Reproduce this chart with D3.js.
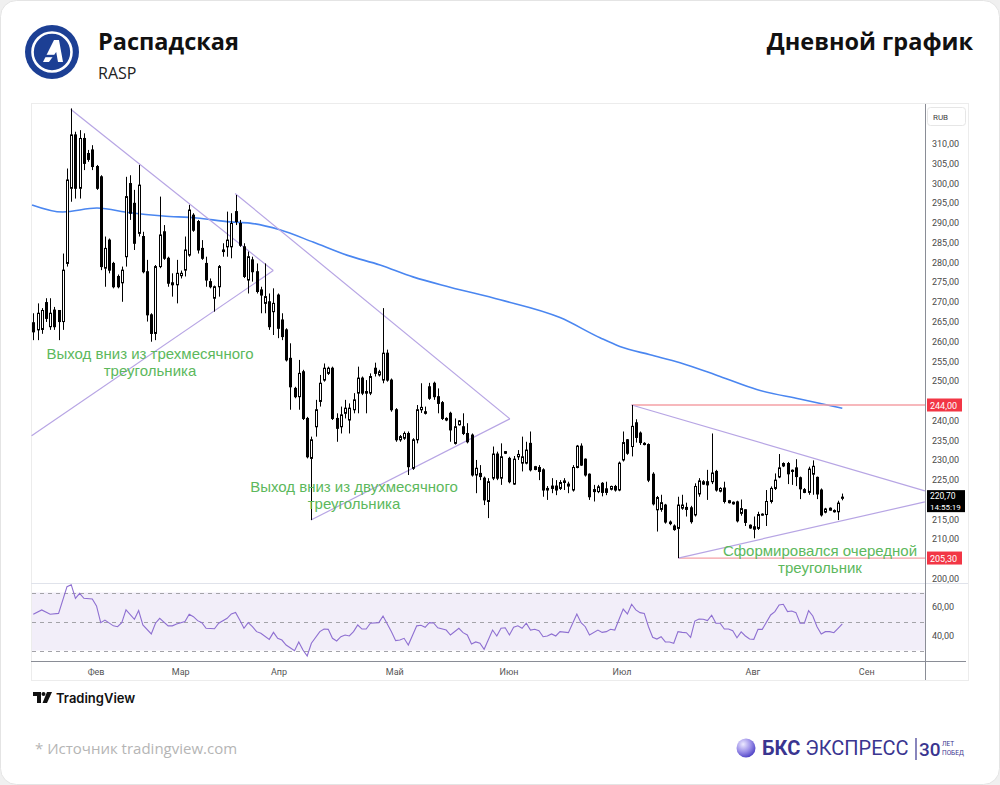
<!DOCTYPE html>
<html><head><meta charset="utf-8">
<script src="https://cdn.jsdelivr.net/npm/d3@7"></script>
<style>
html,body{margin:0;padding:0;background:#f0f0f0;}
svg{display:block;}
</style></head><body>
<svg id="c" width="1000" height="785"></svg>
<script>
// ---------- DATA ----------
const opens = [264.8,263.0,263.1,269.9,263.8,268.0,267.9,265.1,279.8,298.8,312.3,298.8,311.4,307.6,308.5,304.3,301.7,278.6,285.7,279.8,276.5,274.9,281.5,300.0,295.0,287.4,286.6,277.7,266.8,262.1,279.0,287.8,281.1,274.9,274.4,276.7,278.1,281.9,292.0,290.4,283.6,279.8,275.2,271.0,273.9,283.2,284.0,284.0,292.9,289.9,284.0,275.6,280.7,277.7,273.1,269.7,270.1,267.6,271.8,265.5,263.0,255.8,248.2,246.1,252.4,240.6,230.5,238.5,244.9,250.3,252.0,253.3,240.6,238.5,241.9,240.2,242.8,247.0,250.8,247.4,247.0,253.3,251.6,250.3,257.1,250.3,242.8,235.2,235.6,236.8,228.0,235.2,242.8,242.3,248.6,249.5,246.1,244.6,240.6,241.9,234.3,239.0,238.5,236.8,236.4,226.3,226.7,225.5,219.6,225.5,231.6,225.5,232.2,230.5,224.0,230.9,229.3,229.3,234.3,227.7,228.2,227.6,222.5,223.5,223.5,222.9,224.8,223.5,222.5,228.2,233.6,230.3,226.5,222.6,222.1,224.2,222.8,222.7,223.4,222.5,230.1,235.2,233.5,239.5,236.9,234.3,234.0,226.5,217.5,217.6,218.7,214.4,213.4,212.8,217.9,218.1,218.0,216.2,221.5,224.0,224.6,224.6,227.2,222.2,223.0,219.3,219.4,219.5,216.6,217.5,213.6,213.2,212.8,216.2,216.3,219.6,222.9,225.8,228.6,229.2,227.5,228.1,225.6,222.6,221.9,226.5,225.7,222.5,216.9,217.4,217.3,217.0,220.4];
const highs = [267.2,269.7,268.5,271.0,271.0,268.8,268.0,282.3,303.8,319.0,313.1,313.5,312.7,308.5,309.7,304.7,302.1,286.6,286.1,280.2,277.0,279.0,301.7,302.1,298.4,304.7,287.8,280.7,267.2,279.4,296.7,289.5,281.5,277.3,280.7,278.0,286.6,294.6,292.5,290.8,285.7,281.5,276.0,274.2,279.4,284.9,292.9,292.5,297.1,290.8,284.9,282.8,281.5,279.8,273.9,279.8,272.2,273.5,272.2,267.2,263.4,259.6,248.6,255.4,252.9,241.0,236.0,245.3,251.6,254.5,253.7,253.7,241.9,243.6,245.3,244.4,247.0,253.7,251.2,250.3,252.0,254.7,252.9,268.5,258.0,250.7,243.2,236.4,237.3,237.3,235.6,244.0,249.5,243.6,249.6,249.9,248.2,245.0,240.9,242.3,240.6,240.2,241.9,239.4,236.8,230.1,228.8,225.9,225.5,233.5,232.2,234.3,232.3,230.9,231.1,232.6,236.0,234.7,237.3,228.6,228.8,228.0,223.5,225.5,225.0,225.0,225.5,224.6,228.8,233.9,234.3,230.5,226.7,223.8,223.8,224.5,224.6,223.6,223.8,229.7,237.3,235.4,244.0,240.4,237.3,234.6,234.3,227.0,221.0,221.3,219.0,214.8,213.8,220.8,221.3,219.3,218.5,224.2,225.5,225.0,227.6,236.8,227.6,223.2,224.6,220.0,219.6,219.8,220.1,217.6,213.8,215.8,217.0,216.6,222.5,223.4,226.7,231.6,229.5,229.6,227.7,230.3,225.9,223.0,228.4,230.0,225.9,222.9,218.0,218.1,217.6,219.8,221.6];
const lows = [260.4,260.4,262.0,265.0,263.0,263.0,260.4,263.0,279.0,295.4,296.2,296.2,303.4,305.5,303.4,298.4,278.1,273.9,277.3,273.5,273.5,270.1,279.0,290.8,283.2,286.6,277.3,265.1,260.0,260.4,278.6,280.7,273.9,271.4,269.7,276.0,276.5,281.5,287.8,282.3,280.7,273.9,273.5,267.6,271.4,281.5,281.5,281.1,289.5,284.0,276.1,272.2,275.2,272.2,267.2,267.2,263.0,261.7,260.9,260.4,255.0,242.8,245.7,242.8,240.2,230.5,214.9,236.0,243.6,249.9,251.6,240.2,234.7,236.8,240.6,236.8,241.9,241.9,246.5,241.9,246.5,251.2,251.2,249.5,249.9,242.3,234.7,234.7,235.2,226.3,227.6,234.3,242.0,241.6,245.3,245.3,241.9,240.2,239.9,234.7,234.0,238.8,236.4,234.3,225.9,221.7,225.0,218.7,215.4,225.0,225.0,223.8,231.6,224.2,223.8,230.1,227.2,229.0,227.2,227.5,225.0,220.8,220.0,221.7,221.2,222.5,222.5,221.7,222.1,228.0,228.6,225.9,220.0,219.6,221.7,220.9,221.2,222.4,222.1,222.2,229.7,231.4,231.0,234.5,233.9,233.8,224.5,218.6,212.0,217.0,214.0,213.6,212.2,205.3,217.5,215.8,214.0,215.8,220.8,223.8,220.0,224.0,222.1,221.9,219.1,219.1,218.8,214.3,216.0,213.4,212.7,210.3,212.4,216.0,213.4,219.1,222.5,225.5,228.3,224.0,223.8,223.5,220.2,221.7,221.3,221.3,220.2,215.8,216.6,217.3,216.8,214.9,219.9];
const closes = [262.5,267.2,267.9,265.9,267.2,263.8,265.1,278.1,300.9,312.3,298.8,311.4,305.1,306.1,304.3,298.8,279.0,283.6,278.1,273.9,273.9,278.1,296.7,292.5,284.9,299.6,277.7,266.8,262.1,279.0,287.0,281.1,274.8,274.4,277.3,277.3,283.2,293.3,288.2,283.2,281.1,275.6,273.9,273.9,279.0,282.8,285.7,289.9,290.4,284.4,276.5,281.5,277.7,272.7,271.8,271.4,263.8,269.7,263.4,261.3,255.4,248.6,246.1,252.0,240.6,230.9,235.2,242.8,249.5,253.3,253.3,240.6,238.1,241.5,243.2,243.2,245.3,250.8,247.0,247.0,251.2,252.0,252.4,257.1,250.3,242.8,235.2,236.0,236.8,228.4,235.2,242.8,243.4,241.9,245.7,246.1,244.4,240.6,240.2,237.7,238.5,240.0,236.8,234.7,226.3,228.0,225.9,220.0,224.6,231.6,225.5,230.9,231.8,224.6,230.3,231.5,230.9,232.6,227.6,228.4,227.2,222.5,222.9,222.9,222.5,224.4,224.4,224.0,228.2,233.6,228.8,226.3,220.8,222.1,223.3,221.9,221.9,223.4,222.5,229.3,234.5,231.8,238.6,235.8,234.5,234.0,225.0,219.0,220.6,219.3,214.4,214.0,212.5,218.7,218.7,217.6,214.5,223.4,224.8,224.6,223.8,226.8,222.5,222.9,219.6,219.8,219.0,214.7,217.8,214.3,212.9,212.6,216.3,216.4,219.6,222.9,225.0,228.1,229.2,226.6,227.2,225.9,222.8,221.9,227.8,228.5,221.5,216.2,217.7,217.9,217.0,219.2,220.7];

// moving average, read as [bar index, price]
const maPoints = [[-0.3,294.6],[7,292.8],[15.1,293.8],[23,292.6],[30.8,291.8],[38.8,291.3],[46.7,290.3],[51.4,290.0],[58.5,288.3],[66.4,285.2],[74.4,281.9],[82.3,279.4],[90.1,276.4],[98.9,273.8],[110.8,270.6],[125,266.1],[134.5,261.0],[139.2,258.8],[146.4,256.7],[153.5,254.7],[163,251.2],[171.7,247.9],[181.9,245.5],[192,243.2]];

// RSI, read as [bar index, value]
const rsiPoints = [[0,55],[2,58],[4,55],[6,55.6],[8,74],[9,75.4],[10,66],[11,69.4],[12,66],[14,65.5],[15,60.7],[16,49.2],[17,51],[19,47],[20,46.4],[21,49.2],[22,58],[24,51.5],[25,57.5],[26,47.6],[28,41.4],[29,48.8],[30,52.2],[32,47],[33,47],[34,48.3],[36,50],[37,55],[38,53.3],[39,50.6],[40,49.2],[41,45.3],[43,45],[44,48.8],[46,52.2],[47,55.2],[48,56.3],[49,51],[50,45.3],[51,49.2],[52,46.4],[53,43],[54,41.9],[56,37.7],[57,42.5],[58,38.4],[59,37.2],[60,33.8],[62,29.9],[63,35.9],[64,30.3],[65,26.2],[66,35],[68,43],[69,44.8],[70,44.6],[71,38.4],[72,36.6],[73,39.5],[74,40.7],[75,40],[76,43],[77,47.6],[78,44.8],[79,44.8],[80,48.8],[82,49.2],[83,53.8],[85,43],[86,36.8],[87,37.2],[88,38.4],[89,33.8],[91,47],[92,47.4],[93,46],[94,49.2],[95,49],[96,45.6],[98,44.1],[99,40.7],[101,45.3],[102,42.3],[103,40.7],[104,34.5],[105,35.9],[106,35],[107,30.8],[109,44.1],[110,40],[111,45.3],[112,45.7],[113,40.7],[114,46],[115,47],[116,45.3],[117,48.8],[118,44.1],[119,44.6],[120,43.6],[121,39.5],[122,40],[123,41.4],[124,40],[125,43],[127,42.3],[129,55.2],[130,49.2],[131,46.4],[132,40.7],[134,44.1],[135,42.5],[136,43],[137,44.6],[138,44.1],[140,58.6],[141,55.2],[142,61.9],[143,58],[144,56.1],[145,55.6],[146,46.4],[147,39.1],[148,37.9],[149,39.5],[150,35.9],[151,35.9],[152,35],[153,43],[154,42.5],[155,42.3],[156,39.1],[157,50.3],[158,51.7],[159,51.5],[160,50.6],[161,54.3],[162,48.8],[163,48.8],[164,44.8],[165,44.8],[166,43.6],[167,38.8],[168,42.8],[169,40],[170,37.9],[171,37.7],[172,44.6],[173,44.6],[175,54.5],[176,56.8],[177,61.4],[178,61.9],[179,56.8],[180,57.2],[181,56.1],[182,48.8],[183,48.8],[184,57.5],[185,53.8],[186,46.4],[187,41.4],[188,43],[189,43],[190,42.3],[191,45.3],[192,48.3]];

const monthLabels = ["Фев","Мар","Апр","Май","Июн","Июл","Авг","Сен"];
const monthIndex = [14.9,35.0,58.3,85.8,112.9,139.7,170.8,197.8];
const priceTicks = d3.range(200, 315, 5);
const rsiTicks = [60, 40];
const rsiLevels = [70, 50, 30];

// drawn trend lines: pairs of [bar index, price]
const triangleLines = [
  [[8.87,318.8],[56.95,278.0]],
  [[-0.4,236.2],[56.95,278.0]],
  [[47.9,297.5],[113.1,240.5]],
  [[65.9,214.9],[113.1,240.5]],
  [[142,244.0],[211.6,222.3]],
  [[153.06,205.3],[211.6,219.5]]
];
const levelPrices = [244.00, 205.30];
const levelStart = [142, 153.06];
const lastPrice = 220.70;
const lastTime = "14:55:19";
const notes = [
  {lines:["Выход вниз из трехмесячного","треугольника"], x:150, y:359},
  {lines:["Выход вниз из двухмесячного","треугольника"], x:354, y:492},
  {lines:["Сформировался очередной","треугольник"], x:820, y:556}
];

// ---------- LAYOUT ----------
const svg = d3.select("#c");
const L = 31, R = 925, AX = 968, PT = 104, PB = 583, RB = 661;
const fmt = v => d3.format(".2f")(v).replace(".", ",");

svg.append("rect").attr("x",0.5).attr("y",0.5).attr("width",999).attr("height",784)
  .attr("rx",16).attr("fill","#fff").attr("stroke","#e4e4e4");

const x = d3.scaleLinear().domain([0,192]).range([33.3, 842.3]);
const y = d3.scaleLinear().domain([200,310]).range([579,144]);
const yr = d3.scaleLinear().domain([30,70]).range([650.5,592.5]);

// header
const hdr = svg.append("g").attr("font-family","'Open Sans','Noto Sans',sans-serif");
const logo = svg.append("g").attr("transform","translate(52,52)");
logo.append("circle").attr("r",27).attr("fill","#1c3f94");
logo.append("circle").attr("r",19.5).attr("fill","none").attr("stroke","#fff").attr("stroke-width",2.6);
logo.append("path").attr("d","M-9,10 L2,-12 L7,-12 L11,10 L6,10 L4.2,0 L-3,10 Z").attr("fill","#fff");
logo.append("path").attr("d","M-13,4 L2,4").attr("stroke","#1c3f94").attr("stroke-width",2.4);
hdr.append("text").attr("x",98).attr("y",50).attr("font-size",23.5).attr("font-weight",700).attr("fill","#111").text("Распадская");
hdr.append("text").attr("x",98).attr("y",79).attr("font-size",16).attr("fill","#222").text("RASP");
hdr.append("text").attr("x",973).attr("y",50).attr("text-anchor","end").attr("font-size",23.5).attr("font-weight",700).attr("fill","#111").text("Дневной график");

// chart frame
const tv = svg.append("g").attr("font-family","'Roboto','Open Sans',sans-serif");
tv.append("rect").attr("x",L+0.5).attr("y",103.5).attr("width",AX-L).attr("height",577).attr("fill","none").attr("stroke","#ececec");
tv.append("line").attr("x1",L).attr("x2",AX).attr("y1",PB+0.5).attr("y2",PB+0.5).attr("stroke","#e0e3eb");
tv.append("line").attr("x1",L).attr("x2",AX-2).attr("y1",RB+0.5).attr("y2",RB+0.5).attr("stroke","#8a8d96");
tv.append("line").attr("x1",R+0.5).attr("x2",R+0.5).attr("y1",PT).attr("y2",680).attr("stroke","#8a8d96");

svg.append("defs").append("clipPath").attr("id","clipP").append("rect").attr("x",L).attr("y",PT).attr("width",R-L).attr("height",PB-PT);

// RSI pane
const rsiG = svg.append("g");
rsiG.append("rect").attr("x",L+1).attr("width",R-L-1).attr("y",yr(70)).attr("height",yr(30)-yr(70)).attr("fill","#7e57c2").attr("opacity",0.1);
rsiG.selectAll("line.lv").data(rsiLevels).join("line").attr("x1",L+1).attr("x2",R)
  .attr("y1",d=>Math.round(yr(d))+0.5).attr("y2",d=>Math.round(yr(d))+0.5)
  .attr("stroke","#a3a3a8").attr("stroke-dasharray","4,4");
rsiG.append("path").datum(rsiPoints).attr("fill","none").attr("stroke","#8e6fd1").attr("stroke-width",1.1)
  .attr("d", d3.line().x(d=>x(d[0])).y(d=>yr(d[1])));

// price pane
const pg = svg.append("g").attr("clip-path","url(#clipP)");
pg.append("path").datum(maPoints).attr("fill","none").attr("stroke","#4a86f0").attr("stroke-width",1.6)
  .attr("d", d3.line().curve(d3.curveMonotoneX).x(d=>x(d[0])).y(d=>y(d[1])));
levelPrices.forEach((p,i)=>{
  pg.append("line").attr("x1",x(levelStart[i])).attr("x2",R).attr("y1",y(p)).attr("y2",y(p))
    .attr("stroke","#f4a0a6").attr("stroke-width",1.3);
});
pg.selectAll("line.tri").data(triangleLines).join("line")
  .attr("x1",d=>x(d[0][0])).attr("y1",d=>y(d[0][1])).attr("x2",d=>x(d[1][0])).attr("y2",d=>y(d[1][1]))
  .attr("stroke","#b7a5e4").attr("stroke-width",1.2);

// candles
const idx = d3.range(closes.length);
const cg = pg.append("g");
cg.selectAll("line.w").data(idx).join("line")
  .attr("x1",i=>Math.round(x(i))+0.5).attr("x2",i=>Math.round(x(i))+0.5)
  .attr("y1",i=>y(highs[i])).attr("y2",i=>y(lows[i]))
  .attr("stroke","#000").attr("stroke-width",1);
cg.selectAll("rect.b").data(idx).join("rect")
  .attr("x",i=>Math.round(x(i))-0.5).attr("width",2)
  .attr("y",i=>y(Math.max(opens[i],closes[i])))
  .attr("height",i=>Math.max(1, Math.abs(y(opens[i])-y(closes[i]))))
  .attr("fill",i=>closes[i]>=opens[i]?"#fff":"#000")
  .attr("stroke","#000").attr("stroke-width",1);

// annotation texts
const ng = svg.append("g").attr("font-family","'Liberation Sans',Arial,sans-serif").attr("font-size",15).attr("fill","#5cb85c").attr("text-anchor","middle");
notes.forEach(n=>{
  n.lines.forEach((t,k)=>ng.append("text").attr("x",n.x).attr("y",n.y+k*17).text(t));
});

// price axis (labels hidden behind the marker boxes are not drawn, as in the screenshot)
const covered = levelPrices.concat([lastPrice]);
const visibleTicks = priceTicks.filter(t => covered.every(c => Math.abs(y(t)-y(c)) > 8));
const ax = tv.append("g").attr("font-size",9).attr("fill","#4a4a4a");
ax.selectAll("text.pt").data(visibleTicks).join("text").attr("x",932).attr("y",d=>y(d)+3).text(d=>fmt(d));
ax.selectAll("text.rt").data(rsiTicks).join("text").attr("x",932).attr("y",d=>yr(d)+3).text(d=>fmt(d));
tv.append("rect").attr("x",927.5).attr("y",107.5).attr("width",38).attr("height",18).attr("rx",3).attr("fill","#fff").attr("stroke","#e6e6e6");
tv.append("text").attr("x",933).attr("y",120).attr("font-size",8).attr("fill","#444").text("RUB");
levelPrices.forEach(p=>{
  tv.append("rect").attr("x",927).attr("y",y(p)-6.5).attr("width",35).attr("height",13).attr("fill","#f23645");
  tv.append("text").attr("x",930).attr("y",y(p)+3.5).attr("font-size",9).attr("fill","#fff").text(fmt(p));
});
tv.append("rect").attr("x",927).attr("y",y(lastPrice)-7).attr("width",38).attr("height",22).attr("fill","#000");
tv.append("text").attr("x",930).attr("y",y(lastPrice)+2).attr("font-size",8.5).attr("fill","#fff").text(fmt(lastPrice));
tv.append("text").attr("x",930).attr("y",y(lastPrice)+12.5).attr("font-size",8).attr("fill","#fff").text(lastTime);

// x axis
tv.selectAll("text.mx").data(monthLabels).join("text")
  .attr("x",(d,i)=>x(monthIndex[i])).attr("y",675).attr("text-anchor","middle").attr("font-size",9).attr("fill","#555").text(d=>d);

// TradingView logo
const tvl = svg.append("g").attr("transform","translate(33,692)");
tvl.append("path").attr("d","M0,0 H8 V11 H4 V4 H0 Z").attr("fill","#111");
tvl.append("circle").attr("cx",10.5).attr("cy",2).attr("r",2).attr("fill","#111");
tvl.append("path").attr("d","M14,0 H19 L14,11 H9.5 Z").attr("fill","#111");
svg.append("text").attr("x",56).attr("y",703).attr("font-family","'Inter','Roboto',sans-serif").attr("font-weight",600).attr("font-size",13).attr("fill","#111").text("TradingView");

// footer
svg.append("text").attr("x",35).attr("y",754).attr("font-family","'Open Sans','Noto Sans',sans-serif").attr("font-size",15).attr("fill","#b5b5b5").text("*  Источник tradingview.com");

// BKS logo
const gr = svg.append("defs").append("radialGradient").attr("id","sph").attr("cx","35%").attr("cy","30%").attr("r","75%");
gr.append("stop").attr("offset","0%").attr("stop-color","#ece9ff");
gr.append("stop").attr("offset","55%").attr("stop-color","#9b8fe8");
gr.append("stop").attr("offset","100%").attr("stop-color","#4b3fc4");
svg.append("circle").attr("cx",746).attr("cy",748).attr("r",9.5).attr("fill","url(#sph)");
const bk = svg.append("text").attr("x",762).attr("y",755).attr("font-family","'Roboto','Open Sans',sans-serif").attr("font-size",20).attr("fill","#3a3590");
bk.append("tspan").attr("font-weight",700).text("БКС ");
bk.append("tspan").attr("font-weight",400).text("ЭКСПРЕСС");
svg.append("line").attr("x1",916).attr("x2",916).attr("y1",738).attr("y2",760).attr("stroke","#3a3590").attr("stroke-width",1.2);
svg.append("text").attr("x",919).attr("y",756).attr("font-family","'Roboto',sans-serif").attr("font-size",19).attr("font-weight",500).attr("fill","#3a3590").text("30");
svg.append("text").attr("x",942).attr("y",746).attr("font-family","'Roboto',sans-serif").attr("font-size",6.5).attr("fill","#3a3590").text("ЛЕТ");
svg.append("text").attr("x",942).attr("y",755).attr("font-family","'Roboto',sans-serif").attr("font-size",6.5).attr("fill","#3a3590").text("ПОБЕД");
</script>
</body></html>
